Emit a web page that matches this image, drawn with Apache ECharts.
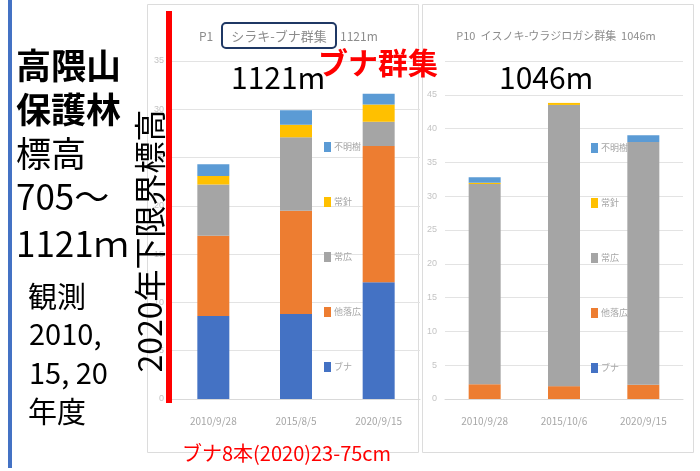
<!DOCTYPE html>
<html>
<head>
<meta charset="utf-8">
<script src="https://cdn.jsdelivr.net/npm/echarts@6/dist/echarts.min.js"></script>
<style>
  html, body { margin: 0; padding: 0; background: #fff; }
  #chart { width: 700px; height: 471px; }
</style>
</head>
<body>
<div id="chart"></div>
<script>
// Survey dates for each plot
const datesP1 = ['2010/9/28', '2015/8/5', '2020/9/15'];
const datesP10 = ['2010/9/28', '2015/10/6', '2020/9/15'];

// Species groups (legend order, top to bottom)
const groups = ['不明樹', '常針', '常広', '他落広', 'ブナ'];

// P1 シラキ-ブナ群集 1121m
const bunaP1 = [8.6, 8.8, 12.1];
const rakkoP1 = [8.3, 10.7, 14.1];
const jokoP1 = [5.3, 7.6, 2.5];
const joshinP1 = [0.9, 1.3, 1.8];
const fumeiP1 = [1.2, 1.5, 1.1];

// P10 イスノキ-ウラジロガシ群集 1046m
const bunaP10 = [0, 0, 0];
const rakkoP10 = [2.2, 1.9, 2.1];
const jokoP10 = [29.6, 41.6, 35.9];
const joshinP10 = [0.2, 0.3, 0];
const fumeiP10 = [0.8, 0, 1.0];

// Axis tick settings
const yMaxP1 = 35;
const yMaxP10 = 50;
const yStep = 5;

const colors = {
  'ブナ': '#4472C4',
  '他落広': '#ED7D31',
  '常広': '#A5A5A5',
  '常針': '#FFC000',
  '不明樹': '#5B9BD5'
};

const JP = '"Noto Sans CJK JP", "Noto Sans", sans-serif';
const faint = '#a6a6a6';

function stackSeries(stack, gridIdx, rows) {
  return rows.map(([name, data]) => ({
    name, type: 'bar', stack, data,
    xAxisIndex: gridIdx, yAxisIndex: gridIdx,
    barWidth: 32,
    itemStyle: { color: colors[name] },
    emphasis: { disabled: true }
  }));
}

function catAxis(idx, data) {
  return {
    type: 'category', gridIndex: idx, data,
    axisLine: { lineStyle: { color: '#d9d9d9' } },
    axisTick: { show: false },
    axisLabel: { color: faint, fontSize: 10, margin: 17, fontFamily: JP }
  };
}

function valAxis(idx, max, showMax) {
  return {
    type: 'value', gridIndex: idx, min: 0, max, interval: yStep,
    axisLine: { show: false }, axisTick: { show: false },
    splitLine: { lineStyle: { color: '#e3e3e3' } },
    axisLabel: { color: '#c4c4c4', fontSize: 9, margin: 8, showMaxLabel: showMax }
  };
}

function legendAt(left, top) {
  return {
    orient: 'vertical', left, top, z: 10,
    data: groups, itemWidth: 7, itemHeight: 10, itemGap: 45,
    icon: 'rect', selectedMode: false,
    textStyle: { color: faint, fontSize: 9, fontFamily: JP, padding: [0, 0, 0, -2] }
  };
}

function txt(x, y, text, size, opts) {
  return Object.assign({
    type: 'text', x, y, z: 100,
    style: Object.assign({
      text, fontSize: size, fontFamily: JP, fill: '#000',
      textVerticalAlign: 'middle'
    }, opts || {})
  });
}

const chart = echarts.init(document.getElementById('chart'), null, { renderer: 'canvas' });

chart.setOption({
  animation: false,
  backgroundColor: '#fff',
  grid: [
    { left: 172, top: 61, width: 248, height: 338 },
    { left: 445, top: 61, width: 238, height: 338 }
  ],
  xAxis: [catAxis(0, datesP1), catAxis(1, datesP10)],
  yAxis: [valAxis(0, yMaxP1, true), valAxis(1, yMaxP10, false)],
  legend: [legendAt(319, 137), legendAt(586, 138)],
  series: [
    ...stackSeries('p1', 0, [
      ['ブナ', bunaP1], ['他落広', rakkoP1], ['常広', jokoP1],
      ['常針', joshinP1], ['不明樹', fumeiP1]
    ]),
    ...stackSeries('p10', 1, [
      ['ブナ', bunaP10], ['他落広', rakkoP10], ['常広', jokoP10],
      ['常針', joshinP10], ['不明樹', fumeiP10]
    ])
  ],
  graphic: [
    // panel frames
    { type: 'rect', shape: { x: 147.5, y: 4.5, width: 271, height: 448 }, z: -1,
      style: { fill: 'none', stroke: '#dcdcdc', lineWidth: 1 } },
    { type: 'rect', shape: { x: 422.5, y: 4.5, width: 271, height: 448 }, z: -1,
      style: { fill: 'none', stroke: '#dcdcdc', lineWidth: 1 } },
    // left accent bar
    { type: 'rect', shape: { x: 8, y: 0, width: 4, height: 468 },
      style: { fill: '#4472C4' } },

    // plot titles
    txt(199, 36, 'P1', 12, { fill: '#8c8c8c' }),
    { type: 'rect', shape: { x: 222, y: 23, width: 114, height: 25, r: 4 }, z: 100,
      style: { fill: 'none', stroke: '#1F3864', lineWidth: 2 } },
    txt(279, 36, 'シラキ-ブナ群集', 13, { fill: '#8c8c8c', textAlign: 'center' }),
    txt(340, 36, '1121m', 12, { fill: '#8c8c8c' }),
    txt(556, 36, 'P10  イスノキ-ウラジロガシ群集  1046m', 11, { fill: '#8c8c8c', textAlign: 'center' }),

    // red marker line
    { type: 'rect', shape: { x: 166, y: 11, width: 6, height: 392 }, z: 99,
      style: { fill: '#FF0000' } },

    // left side annotations
    txt(16, 66, '高隈山', 35, { fontWeight: 'bold' }),
    txt(16, 110, '保護林', 35, { fontWeight: 'bold' }),
    txt(16, 154, '標高', 35),
    txt(16, 197, '705～', 35),
    txt(16, 244, '1121ｍ', 35),
    txt(28, 297, '観測', 29),
    txt(29, 334, '2010,', 29),
    txt(29, 373, '15, 20', 29),
    txt(28, 412, '年度', 29),

    // rotated label
    { type: 'text', x: 150, y: 241, rotation: Math.PI / 2, z: 100,
      style: { text: '2020年下限界標高', fontSize: 32, fontFamily: JP, fill: '#000',
               textAlign: 'center', textVerticalAlign: 'middle' } },

    // overlay labels
    txt(231, 78, '1121m', 30),
    txt(318, 63, 'ブナ群集', 30, { fill: '#FF0000', fontWeight: 'bold' }),
    txt(499, 78, '1046m', 30),
    txt(182, 453, 'ブナ8本(2020)23-75cm', 20, { fill: '#FF0000' })
  ]
});
</script>
</body>
</html>
